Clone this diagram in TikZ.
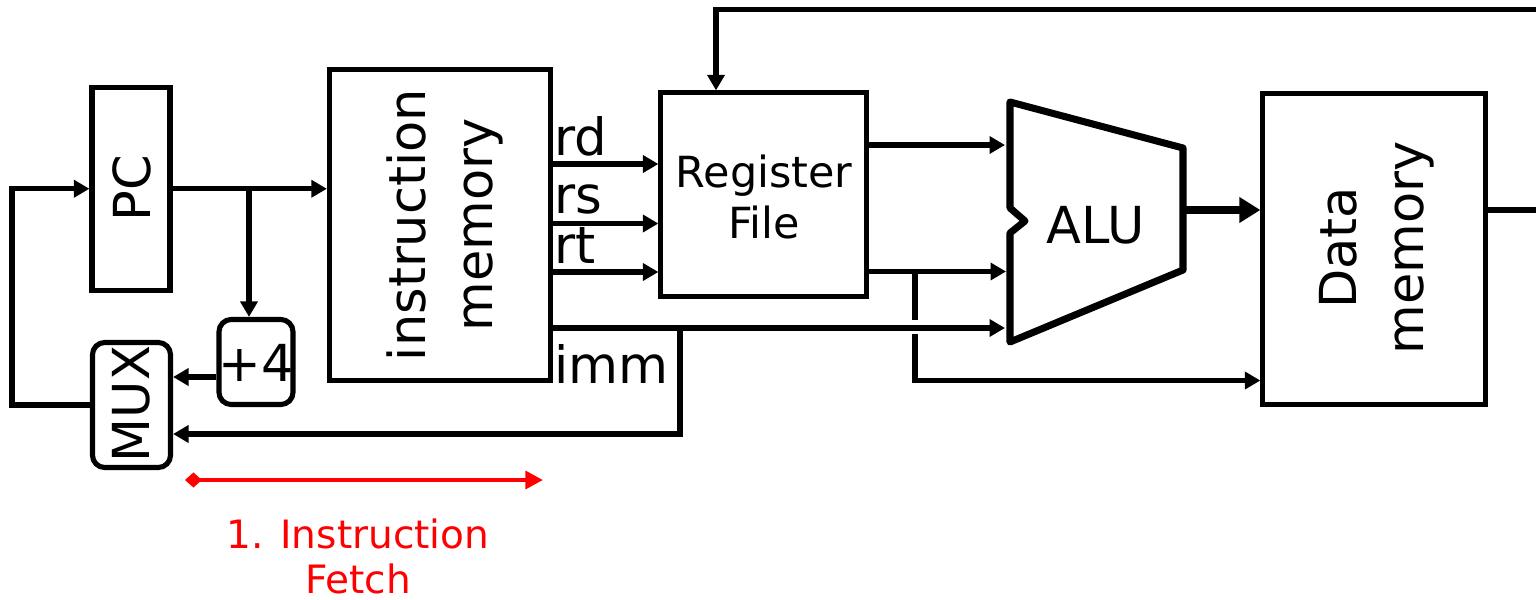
\documentclass[tikz,border=0pt]{standalone}
\usepackage{fontspec}
\setmainfont{DejaVu Sans}
\usetikzlibrary{arrows.meta, positioning}
\definecolor{fetchred}{RGB}{255,0,0}
\tikzset{
  box/.style={draw, line width=1.45pt, inner sep=0pt},
  rbox/.style={box, rounded corners=3.5pt},
  wire/.style={line width=1.5pt},
  arr/.style={wire, -{Triangle[length=4.4pt,width=4.8pt]}},
  big/.style={font=\fontsize{14.5}{19}\selectfont, inner sep=0pt},
  sig/.style={font=\fontsize{14.6}{16}\selectfont, anchor=base west, inner sep=0pt},
}

\begin{document}
\begin{tikzpicture}[x=0.01cm, y=-0.01cm]
    \useasboundingbox (0,0) rectangle (1536,600);

    % PC, +4 und MUX
    \node[box, minimum width=0.78cm, minimum height=2.025cm] (pc) at (131,188.75) {};
    \node[big, rotate=90] (pctext) at (132,188) {PC};
    \node[rbox, minimum width=0.74cm, minimum height=0.85cm] (plus) at (256,362) {};
    \node[big] (plustext) at (256,363) {+4};
    \node[rbox, minimum width=0.78cm, minimum height=1.25cm] (mux) at (131.5,405) {};
    \node[big, rotate=90] (muxtext) at (131,404) {MUX};

    % instruction memory
    \node[box, minimum width=2.205cm, minimum height=3.11cm] (im) at (439.75,225) {};
    \node[big, rotate=90, align=center] (imtext) at (445,225) {instruction\\memory};
    \node[sig] (rd) at (554,155) {rd};
    \node[sig] (rs) at (554,213) {rs};
    \node[sig] (rt) at (554,263) {rt};
    \node[sig] (imm) at (554,383) {imm};

    % register file
    \node[box, minimum width=2.05cm, minimum height=2.03cm] (rf) at (763.5,194.5) {};
    \node[font=\fontsize{12.2}{14.5}\selectfont, align=center] (rftext) at (764,197) {Register\\File};

    % ALU
    \coordinate (alutl) at (1010,102);
    \coordinate (alutr) at (1183,148);
    \coordinate (alubr) at (1183,270);
    \coordinate (alubl) at (1010,342);
    \draw[line width=2pt, line join=round] (alutl) -- (alutr) -- (alubr) -- (alubl)
        -- (1010,233) -- (1025,221) -- (1010,208) -- cycle;
    \node[big] (alu) at (1096,225) {ALU};
    \coordinate (aluw) at (1005,0);
    \coordinate (aluout) at (1183,210);

    % data memory
    \node[box, minimum width=2.22cm, minimum height=3.105cm] (dm) at (1374,249.25) {};
    \node[big, rotate=90, align=center] (dmtext) at (1377,248) {Data\\memory};

    % wires
    \coordinate (fbl) at (12,188.75);
    \draw[arr] (mux.west) -| (fbl) -- (fbl -| pc.west);
    \draw[arr] (pc.east) -- (pc.east -| im.west);
    \coordinate (pcsplit) at (249,188.75);
    \draw[arr] (pcsplit) -- (pcsplit |- plus.north);
    \draw[arr] (plus.west |- 0,377) -- (mux.east |- 0,377);

    \draw[arr] (im.east |- 0,164) -- (rf.west |- 0,164);
    \draw[arr] (im.east |- 0,223.5) -- (rf.west |- 0,223.5);
    \draw[arr] (im.east |- 0,272) -- (rf.west |- 0,272);
    \draw[arr] (im.east |- 0,328) -- (aluw |- 0,328);
    \coordinate (immdn) at (680,328);
    \draw[arr] (immdn) |- (mux.east |- 0,434);

    \draw[arr] (rf.east |- 0,145) -- (aluw |- 0,145);
    \draw[arr] (rf.east |- 0,271.5) -- (1006,271.5);
    \coordinate (rtsplit) at (915,271.5);
    \coordinate (hopa) at (915,320);
    \coordinate (hopb) at (915,334);
    \draw[wire] (rtsplit) -- (hopa);
    \draw[arr] (hopb) |- (dm.west |- 0,380.5);

    \draw[line width=2pt, -{Triangle[length=6pt,width=7pt]}] (aluout) -- (dm.west |- aluout);
    \coordinate (outr) at (1536,210);
    \draw[wire] (dm.east |- outr) -- (outr);
    \coordinate (topr) at (1536,9.5);
    \coordinate (wbk) at (716,9.5);
    \draw[arr] (topr) -- (wbk) -- (wbk |- rf.north);

    % Fetch-Stufe
    \coordinate (fs) at (185,480);
    \coordinate (fe) at (543,480);
    \draw[fetchred, line width=1.3pt, {Diamond[length=4.8pt,width=4.3pt]}-{Triangle[length=5pt,width=5pt]}] (fs) -- (fe);
    \node[text=fetchred, font=\fontsize{11.1}{12.8}\selectfont, align=center] (fetch) at (358,556) {1. Instruction\\Fetch};
\end{tikzpicture}
\end{document}
